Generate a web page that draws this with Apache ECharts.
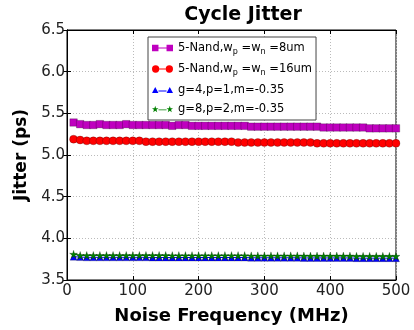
<!DOCTYPE html>
<html><head><meta charset="utf-8">
<script src="https://cdn.jsdelivr.net/npm/echarts@6/dist/echarts.min.js"></script>
<style>html,body{margin:0;padding:0;background:#fff}#c{width:414px;height:330px}</style>
</head><body><div id="c"></div>
<script>
const freqs = [10,20,30,40,50,60,70,80,90,100,110,120,130,140,150,160,170,180,190,200,210,220,230,240,250,260,270,280,290,300,310,320,330,340,350,360,370,380,390,400,410,420,430,440,450,460,470,480,490,500];
const nand8 = [5.39,5.37,5.36,5.36,5.37,5.36,5.36,5.36,5.37,5.36,5.36,5.36,5.36,5.36,5.36,5.35,5.36,5.36,5.35,5.35,5.35,5.35,5.35,5.35,5.35,5.35,5.35,5.34,5.34,5.34,5.34,5.34,5.34,5.34,5.34,5.34,5.34,5.34,5.33,5.33,5.33,5.33,5.33,5.33,5.33,5.32,5.32,5.32,5.32,5.32];
const nand16 = [5.19,5.18,5.17,5.17,5.17,5.17,5.17,5.17,5.17,5.17,5.17,5.16,5.16,5.16,5.16,5.16,5.16,5.16,5.16,5.16,5.16,5.16,5.16,5.16,5.16,5.15,5.15,5.15,5.15,5.15,5.15,5.15,5.15,5.15,5.15,5.15,5.15,5.14,5.14,5.14,5.14,5.14,5.14,5.14,5.14,5.14,5.14,5.14,5.14,5.14];
const g4 = [3.78,3.775,3.772,3.772,3.772,3.772,3.772,3.772,3.772,3.772,3.772,3.772,3.77,3.77,3.77,3.77,3.77,3.77,3.77,3.77,3.77,3.77,3.77,3.77,3.77,3.77,3.77,3.767,3.767,3.767,3.767,3.767,3.767,3.767,3.767,3.765,3.765,3.765,3.765,3.765,3.765,3.765,3.765,3.762,3.762,3.762,3.762,3.762,3.762,3.762];
const g8 = [3.81,3.795,3.795,3.795,3.795,3.795,3.795,3.795,3.795,3.795,3.795,3.795,3.795,3.795,3.795,3.793,3.793,3.793,3.793,3.793,3.793,3.793,3.793,3.793,3.793,3.793,3.793,3.79,3.79,3.79,3.79,3.79,3.79,3.79,3.79,3.788,3.788,3.788,3.788,3.788,3.788,3.788,3.788,3.785,3.785,3.785,3.785,3.785,3.785,3.785];
const seriesNames = ['5-Nand,wp=wn=8um','5-Nand,wp=wn=16um','g=4,p=1,m=-0.35','g=8,p=2,m=-0.35'];
const legendLabels = ['5-Nand,w{s|p} =w{s|n} =8um','5-Nand,w{s|p} =w{s|n} =16um','g=4,p=1,m=-0.35','g=8,p=2,m=-0.35'];
const xTicks = {min:0,max:500,interval:100};
const yTicks = {min:3.5,max:6.5,interval:0.5};

const F = 'DejaVu Sans';
const STAR = 'path://M50,0 L61,35 L98,35 L68,57 L79,91 L50,70 L21,91 L32,57 L2,35 L39,35 Z';
const LINE = 'M8,4 L18,4 L18,5 L8,5 Z ';
const legendIcons = [
  'path://M0,0.5 L8,0.5 L8,8.5 L0,8.5 Z ' + LINE + 'M18,0.5 L26,0.5 L26,8.5 L18,8.5 Z',
  'path://M0,4.5 A4.5,4.5 0 1,1 9,4.5 A4.5,4.5 0 1,1 0,4.5 Z M9,4 L17,4 L17,5 L9,5 Z M17,4.5 A4.5,4.5 0 1,1 26,4.5 A4.5,4.5 0 1,1 17,4.5 Z',
  'path://M0,8 L4,0.5 L8,8 Z M8,5 L18,5 L18,6 L8,6 Z M18,8 L22,0.5 L26,8 Z',
  'path://M4,0 L5,3 L8,3 L5.6,4.9 L6.5,8 L4,6.2 L1.5,8 L2.4,4.9 L0,3 L3,3 Z M8,4.5 L18,4.5 L18,5.5 L8,5.5 Z M22,0 L23,3 L26,3 L23.6,4.9 L24.5,8 L22,6.2 L19.5,8 L20.4,4.9 L18,3 L21,3 Z'
];
const pair = a => a.map((v,i)=>[freqs[i],v]);
const chart = echarts.init(document.getElementById('c'));
const mk = (name, data, color, symbol, size) => ({
  name, type:'line', data:pair(data), symbol, symbolSize:size, showAllSymbol:true,
  lineStyle:{color, width:1}, itemStyle:{color, borderColor:'rgba(0,0,0,0.45)', borderWidth:0.5},
  animation:false, z:3
});
const gridLine = {show:true, lineStyle:{color:'#bbb', type:[1,2], width:1}};
chart.setOption({
  animation:false,
  title:{text:'Cycle Jitter', left:238, top:1, textAlign:'center',
    textStyle:{fontFamily:F, fontSize:19, fontWeight:'bold', color:'#000'}},
  grid:{left:67, right:18, top:30, bottom:43, show:true, borderColor:'#000', borderWidth:1},
  legend:{orient:'vertical', left:148, top:37, backgroundColor:'#fff', borderColor:'#444', borderWidth:1,
    padding:[5,4,5,4], itemGap:7, itemWidth:21, itemHeight:8,
    data:seriesNames.map((n,i)=>({name:n, icon:legendIcons[i], itemStyle:{borderWidth:0}})),
    formatter: n => legendLabels[seriesNames.indexOf(n)],
    textStyle:{fontFamily:F, fontSize:11.5, color:'#000',
      rich:{s:{fontFamily:F, fontSize:8, color:'#000', padding:[8,0,0,0]}}}},
  xAxis:[{type:'value', min:xTicks.min, max:xTicks.max, interval:xTicks.interval,
    name:'Noise Frequency (MHz)', nameLocation:'middle', nameGap:27,
    nameTextStyle:{fontFamily:F, fontSize:18, fontWeight:'bold', color:'#000'},
    axisLine:{show:true, lineStyle:{color:'#000'}}, axisTick:{show:true, inside:true, length:4, lineStyle:{color:'#000'}},
    axisLabel:{fontFamily:F, fontSize:15, color:'#222', margin:4}, splitLine:gridLine},
    {type:'value', position:'top', min:xTicks.min, max:xTicks.max, interval:xTicks.interval,
    axisLine:{show:true, lineStyle:{color:'#000'}}, axisTick:{show:true, inside:true, length:4, lineStyle:{color:'#000'}},
    axisLabel:{show:false}, splitLine:{show:false}}],
  yAxis:[{type:'value', min:yTicks.min, max:yTicks.max, interval:yTicks.interval,
    name:'Jitter (ps)', nameLocation:'middle', nameGap:33,
    nameTextStyle:{fontFamily:F, fontSize:17, fontWeight:'bold', color:'#000'},
    axisLine:{show:true, lineStyle:{color:'#000'}}, axisTick:{show:true, inside:true, length:4, lineStyle:{color:'#000'}},
    axisLabel:{fontFamily:F, fontSize:15, color:'#222', margin:2, formatter:v=>v.toFixed(1)}, splitLine:gridLine},
    {type:'value', position:'right', min:yTicks.min, max:yTicks.max, interval:yTicks.interval,
    axisLine:{show:true, lineStyle:{color:'#000'}}, axisTick:{show:true, inside:true, length:4, lineStyle:{color:'#000'}},
    axisLabel:{show:false}, splitLine:{show:false}}],
  series:[
    mk(seriesNames[0], nand8, '#bf00bf', 'rect', 7.5),
    mk(seriesNames[1], nand16, '#ff0000', 'circle', 8),
    mk(seriesNames[2], g4, '#0000ff', 'triangle', 7),
    mk(seriesNames[3], g8, '#008000', STAR, 8)
  ]
});
</script></body></html>
